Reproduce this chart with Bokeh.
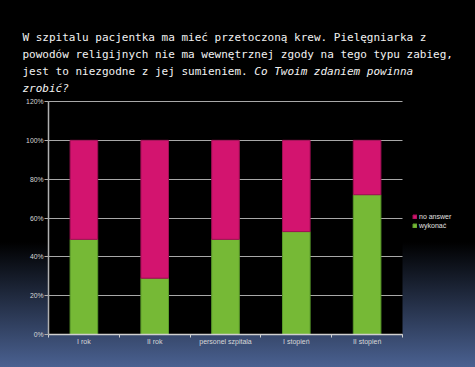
from bokeh.plotting import figure
from bokeh.models import (Range1d, FixedTicker, NumeralTickFormatter, Legend,
                          LegendItem, Label, ColumnDataSource)
from bokeh.embed import file_html
from bokeh.resources import INLINE

# ---- data ----
categories = ["I rok", "II rok", "personel szpitala", "I stopień", "II stopień"]
wykonac = [0.49, 0.29, 0.49, 0.53, 0.72]
no_answer = [0.51, 0.71, 0.51, 0.47, 0.28]
series_names = ["wykonać", "no answer"]
yticks = [0.0, 0.2, 0.4, 0.6, 0.8, 1.0, 1.2]

title_lines = [
    ("W szpitalu pacjentka ma mieć przetoczoną krew. Pielęgniarka z", ""),
    ("powodów religijnych nie ma wewnętrznej zgody na tego typu zabieg,", ""),
    ("jest to niezgodne z jej sumieniem. ", "Co Twoim zdaniem powinna"),
    ("", "zrobić?"),
]

GREEN = "#76b936"
MAGENTA = "#d3146f"

# ---- layout constants (page pixels) ----
W, H = 475, 367
FL, FR, FT, FB = 48, 402, 101, 334   # plot-area edges
n = len(categories)
YMAX = yticks[-1]
pxu = (FR - FL) / n
pyu = (FB - FT) / YMAX

xs = [i + 0.5 for i in range(n)]
src = ColumnDataSource(dict(x=xs, **{series_names[0]: wykonac, series_names[1]: no_answer}))

p = figure(width=W, height=H, output_backend="svg", toolbar_location=None,
           x_range=Range1d(-FL / pxu, n + (W - FR) / pxu),
           y_range=Range1d(-(H - FB) / pyu, YMAX + FT / pyu),
           min_border=0, min_border_left=0, min_border_right=0,
           min_border_top=0, min_border_bottom=0,
           background_fill_color=None, border_fill_color=None,
           outline_line_color=None,
           styles={"background": "linear-gradient(to bottom, #000000 0%, #000000 66%, #4a6191 100%)"})

# black plot area
p.quad(left=[0], right=[n], bottom=[0], top=[YMAX], fill_color="#000000",
       line_color=None, level="image")

rs = p.vbar_stack(series_names, x="x", width=0.39, source=src,
                  fill_color=[GREEN, MAGENTA],
                  line_color=["#5a9a2a", "#a00f55"], line_width=1)

# y axis
yax = p.yaxis[0]
yax.fixed_location = 0
yax.bounds = (0, YMAX)
yax.ticker = FixedTicker(ticks=yticks, minor_ticks=[])
yax.formatter = NumeralTickFormatter(format="0%")
yax.axis_line_color = "#b0b0b0"
yax.axis_line_width = 1.5
yax.major_tick_line_color = "#b0b0b0"
yax.major_tick_out = 4
yax.major_tick_in = 0
yax.major_label_standoff = 1
yax.major_label_text_font = "Liberation Sans"
yax.major_label_text_font_size = "6.8px"
yax.major_label_text_color = "#d8d8d8"

# x axis
xax = p.xaxis[0]
xax.fixed_location = 0
xax.bounds = (0, n)
xax.ticker = FixedTicker(ticks=xs, minor_ticks=list(range(n + 1)))
xax.major_label_overrides = {x: c for x, c in zip(xs, categories)}
xax.axis_line_color = "#d0d0d0"
xax.axis_line_width = 1.5
xax.major_tick_line_color = None
xax.minor_tick_line_color = "#d0d0d0"
xax.minor_tick_out = 3
xax.minor_tick_in = 0
xax.major_label_standoff = -3
xax.major_label_text_font = "Liberation Sans"
xax.major_label_text_font_size = "7px"
xax.major_label_text_color = "#d8d8d8"

# grid
p.xgrid.grid_line_color = None
yg = p.ygrid[0]
yg.ticker = FixedTicker(ticks=yticks)
if "cross_bounds" in yg.properties():
    yg.bounds = (0, YMAX)
    yg.cross_bounds = (0, n)
    yg.grid_line_color = "#a8a8a8"
    yg.grid_line_width = 1
else:
    yg.grid_line_color = None
    p.segment(x0=[0] * len(yticks), x1=[n] * len(yticks), y0=yticks, y1=yticks,
              line_color="#a8a8a8", line_width=1, level="underlay")

# legend
legend = Legend(items=[LegendItem(label=series_names[1], renderers=[rs[1]]),
                       LegendItem(label=series_names[0], renderers=[rs[0]])],
                location=(412, H - 229), orientation="vertical",
                background_fill_alpha=0, border_line_color=None,
                glyph_width=5, glyph_height=5, label_standoff=2, spacing=2,
                padding=0, margin=0, label_height=7,
                label_text_font="Liberation Sans", label_text_font_size="7px",
                label_text_color="#e0e0e0")
p.add_layout(legend, "center")

# title text (screen units; frame covers the whole canvas)
char_w = 11 * 0.602
base_y = [37, 54, 71, 88]
for (norm, ital), by in zip(title_lines, base_y):
    if norm:
        p.add_layout(Label(x=22, y=H - by, x_units="screen", y_units="screen", text=norm,
                           text_font="DejaVu Sans Mono", text_font_size="11px",
                           text_color="#f2f2f2", text_baseline="alphabetic"))
    if ital:
        p.add_layout(Label(x=22 + len(norm) * char_w, y=H - by, x_units="screen",
                           y_units="screen", text=ital, text_font="DejaVu Sans Mono",
                           text_font_size="11px", text_font_style="italic",
                           text_color="#f2f2f2", text_baseline="alphabetic"))

open("out.html", "w").write(file_html(p, INLINE))
